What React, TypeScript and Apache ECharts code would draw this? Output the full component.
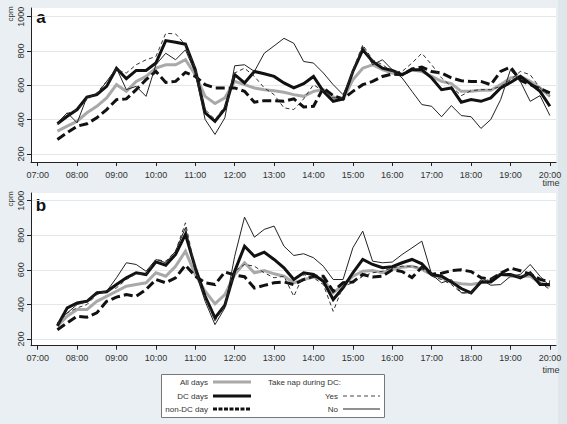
import React, { useEffect, useRef } from "react";
import * as echarts from "echarts";

const times = [
  "07:30", "07:45", "08:00", "08:15", "08:30", "08:45", "09:00", "09:15", "09:30", "09:45",
  "10:00", "10:15", "10:30", "10:45", "11:00", "11:15", "11:30", "11:45", "12:00", "12:15",
  "12:30", "12:45", "13:00", "13:15", "13:30", "13:45", "14:00", "14:15", "14:30", "14:45",
  "15:00", "15:15", "15:30", "15:45", "16:00", "16:15", "16:30", "16:45", "17:00", "17:15",
  "17:30", "17:45", "18:00", "18:15", "18:30", "18:45", "19:00", "19:15", "19:30", "19:45",
  "20:00",
];

const xTicks = [7, 8, 9, 10, 11, 12, 13, 14, 15, 16, 17, 18, 19, 20];
const yTicks = [200, 400, 600, 800, 1000];

// Panel a
const allDaysA = [333, 362, 391, 440, 478, 527, 604, 565, 623, 652, 700, 720, 720, 749, 662, 536, 494, 527,
  623, 604, 585, 575, 569, 560, 546, 536, 565, 575, 532, 517, 633, 700, 720, 691,
  672, 662, 691, 681, 652, 623, 610, 565, 565, 571, 571, 604, 643, 652, 623, 585, 536];
const dcDaysA = [376, 420, 459, 532, 546, 594, 700, 639, 687, 687, 730, 861, 851, 840, 691, 440, 390, 463,
  662, 614, 681, 668, 652, 614, 585, 610, 652, 565, 507, 521, 681, 807, 739, 700,
  687, 662, 691, 691, 643, 575, 585, 502, 517, 507, 527, 585, 617, 652, 610, 565, 478];
const nonDcA = [285, 324, 362, 376, 411, 459, 517, 521, 575, 633, 681, 617, 623, 675, 652, 604, 585, 585,
  585, 565, 502, 511, 511, 507, 521, 474, 478, 585, 540, 521, 565, 604, 623, 652,
  666, 662, 695, 706, 681, 672, 643, 627, 623, 623, 604, 681, 706, 629, 604, 581, 556];
const napYesA = [372, 436, 459, 517, 556, 623, 691, 672, 720, 749, 768, 903, 900, 836, 700, 459, 401, 478,
  672, 700, 652, 585, 546, 469, 459, 521, 604, 565, 527, 527, 691, 836, 749, 720,
  681, 681, 730, 787, 720, 643, 594, 540, 569, 575, 575, 594, 633, 681, 662, 585, 536];
const napNoA = [382, 440, 382, 532, 546, 623, 700, 575, 594, 536, 720, 787, 749, 807, 672, 401, 314, 411,
  714, 720, 681, 787, 830, 874, 845, 739, 730, 672, 604, 546, 672, 826, 720, 749,
  691, 643, 565, 488, 478, 417, 482, 424, 417, 349, 401, 517, 691, 623, 507, 540, 424];

// Panel b
const allDaysB = [274, 332, 370, 370, 418, 447, 476, 505, 515, 525, 583, 563, 621, 708, 573, 476, 403, 457,
  573, 641, 583, 596, 577, 563, 525, 544, 558, 544, 467, 515, 563, 592, 596, 583,
  602, 615, 621, 602, 573, 554, 530, 519, 515, 525, 534, 573, 563, 563, 563, 525, 505];
const dcDaysB = [277, 380, 409, 418, 467, 473, 515, 554, 583, 573, 646, 627, 689, 805, 612, 447, 322, 395,
  592, 737, 679, 702, 660, 612, 544, 583, 573, 534, 428, 496, 583, 660, 631, 612,
  618, 641, 660, 635, 573, 563, 530, 492, 467, 530, 530, 573, 573, 554, 583, 515, 515];
const nonDcB = [254, 293, 332, 326, 351, 418, 442, 457, 447, 486, 544, 525, 554, 627, 563, 525, 515, 588,
  570, 560, 495, 510, 525, 530, 515, 544, 563, 563, 476, 525, 530, 573, 558, 563,
  600, 590, 555, 615, 575, 580, 595, 600, 590, 555, 545, 580, 610, 595, 575, 545, 530];
const napYesB = [283, 351, 380, 399, 457, 476, 496, 544, 577, 573, 660, 650, 708, 872, 602, 438, 305, 395,
  592, 631, 621, 583, 554, 563, 447, 573, 554, 515, 360, 505, 525, 563, 583, 592,
  612, 621, 621, 612, 563, 544, 515, 467, 467, 534, 544, 583, 573, 554, 583, 525, 486];
const napNoB = [293, 351, 399, 415, 473, 476, 554, 641, 631, 592, 660, 641, 708, 844, 592, 418, 283, 380,
  679, 905, 789, 834, 853, 737, 683, 693, 670, 621, 544, 544, 728, 824, 650, 641,
  645, 689, 727, 766, 573, 525, 544, 467, 467, 544, 511, 515, 563, 573, 631, 563, 505];

const FONT = "Liberation Sans, Arial, sans-serif";
const TXT = "#333";

const toHour = (s: string) => {
  const [h, m] = s.split(":").map(Number);
  return h + m / 60;
};
const pad = (n: number) => (n < 10 ? "0" + n : "" + n);

const styles: Record<string, any> = {
  all: { color: "#a9a9a9", width: 3, type: "solid" },
  dc: { color: "#111", width: 3, type: "solid" },
  non: { color: "#111", width: 3, type: [9, 4] },
  yes: { color: "#333", width: 1, type: [4, 3] },
  no: { color: "#222", width: 1, type: "solid" },
};

function mkSeries(name: string, key: string, vals: number[], idx: number) {
  return {
    name,
    type: "line",
    xAxisIndex: idx,
    yAxisIndex: idx,
    symbol: "none",
    silent: true,
    lineStyle: { ...styles[key], cap: "butt", join: "miter" },
    data: times.map((t, i) => [toHour(t), vals[i]]),
  };
}

function xAxis(idx: number) {
  return {
    type: "value",
    gridIndex: idx,
    min: 6.83,
    max: 20.155,
    axisLine: { show: true, lineStyle: { color: "#222", width: 1 } },
    axisTick: { show: true, length: 4, customValues: xTicks, lineStyle: { color: "#222" } },
    axisLabel: {
      customValues: xTicks,
      formatter: (v: number) => pad(Math.round(v)) + ":00",
      fontSize: 9,
      fontFamily: FONT,
      color: TXT,
      margin: 8,
    },
    splitLine: { show: false },
  };
}

function yAxis(idx: number, min: number, max: number) {
  return {
    type: "value",
    gridIndex: idx,
    min,
    max,
    axisLine: { show: true, lineStyle: { color: "#222", width: 1 } },
    axisTick: { show: true, length: 4, customValues: yTicks, lineStyle: { color: "#222" } },
    axisLabel: {
      customValues: yTicks,
      formatter: (v: number) => String(Math.round(v)),
      rotate: 90,
      fontSize: 9,
      fontFamily: FONT,
      color: TXT,
      margin: 6,
    },
    splitLine: { show: true, lineStyle: { color: "#e3e7e9", width: 1 } },
  };
}

export default function App() {
  const ref = useRef<HTMLDivElement>(null);
  useEffect(() => {
    if (!ref.current) return;
    const chart = echarts.init(ref.current, null, { renderer: "svg" });
    const txt = (text: string, x: number, y: number, align: string, extra: any = {}) => ({
      type: "text",
      x,
      y,
      style: {
        text,
        fill: TXT,
        font: `8px ${FONT}`,
        textAlign: align,
        textVerticalAlign: "middle",
        ...extra,
      },
    });
    const ln = (x1: number, x2: number, y: number, stroke: string, lineWidth: number, lineDash?: number[]) => ({
      type: "line",
      shape: { x1, y1: y, x2, y2: y },
      style: { stroke, lineWidth, lineDash: lineDash || null },
    });
    chart.setOption({
      animation: false,
      backgroundColor: "#e9eff2",
      grid: [
        { left: 31, top: 8, width: 525, height: 154, show: true, backgroundColor: "#fff", borderWidth: 0, outerBoundsMode: "none", containLabel: false },
        { left: 31, top: 193, width: 525, height: 152.7, show: true, backgroundColor: "#fff", borderWidth: 0, outerBoundsMode: "none", containLabel: false },
      ],
      xAxis: [xAxis(0), xAxis(1)],
      yAxis: [yAxis(0, 153.4, 1050.7), yAxis(1, 161.2, 1044.5)],
      series: [
        mkSeries("All days", "all", allDaysA, 0),
        mkSeries("DC days", "dc", dcDaysA, 0),
        mkSeries("non-DC day", "non", nonDcA, 0),
        mkSeries("Yes", "yes", napYesA, 0),
        mkSeries("No", "no", napNoA, 0),
        mkSeries("All days", "all", allDaysB, 1),
        mkSeries("DC days", "dc", dcDaysB, 1),
        mkSeries("non-DC day", "non", nonDcB, 1),
        mkSeries("Yes", "yes", napYesB, 1),
        mkSeries("No", "no", napNoB, 1),
      ],
      graphic: [
        { type: "rect", shape: { x: 558, y: 0, width: 9, height: 424 }, style: { fill: "#dfe7eb" }, z: -1 },
        txt("a", 41, 17, "center", { font: `bold 17px ${FONT}`, fill: "#111" }),
        txt("b", 41, 205, "center", { font: `bold 17px ${FONT}`, fill: "#111" }),
        { type: "text", x: 10, y: 14, rotation: Math.PI / 2, style: { text: "cpm", fill: TXT, font: `8px ${FONT}`, textAlign: "center", textVerticalAlign: "middle" } },
        { type: "text", x: 10, y: 199, rotation: Math.PI / 2, style: { text: "cpm", fill: TXT, font: `8px ${FONT}`, textAlign: "center", textVerticalAlign: "middle" } },
        txt("time", 551, 183, "center", { font: `9px ${FONT}` }),
        txt("time", 551, 370, "center", { font: `9px ${FONT}` }),
        {
          type: "rect",
          shape: { x: 161.5, y: 374.5, width: 223, height: 43 },
          style: { fill: "#fff", stroke: "#777", lineWidth: 1 },
        },
        txt("All days", 208, 382, "right"),
        txt("DC days", 208, 396, "right"),
        txt("non-DC day", 208, 409, "right"),
        ln(213, 251, 382, "#a9a9a9", 3),
        ln(213, 251, 396, "#111", 3),
        ln(213, 251, 409, "#111", 3, [4, 1.5]),
        txt("Take nap during DC:", 268, 382, "left"),
        txt("Yes", 338, 396, "right"),
        txt("No", 338, 409, "right"),
        ln(343, 380, 396, "#444", 1, [4, 3]),
        ln(343, 380, 409, "#222", 1),
      ],
    });
    return () => chart.dispose();
  }, []);
  return (
    <div
      ref={ref}
      style={{ position: "absolute", left: 0, top: 0, width: 567, height: 424 }}
    />
  );
}
